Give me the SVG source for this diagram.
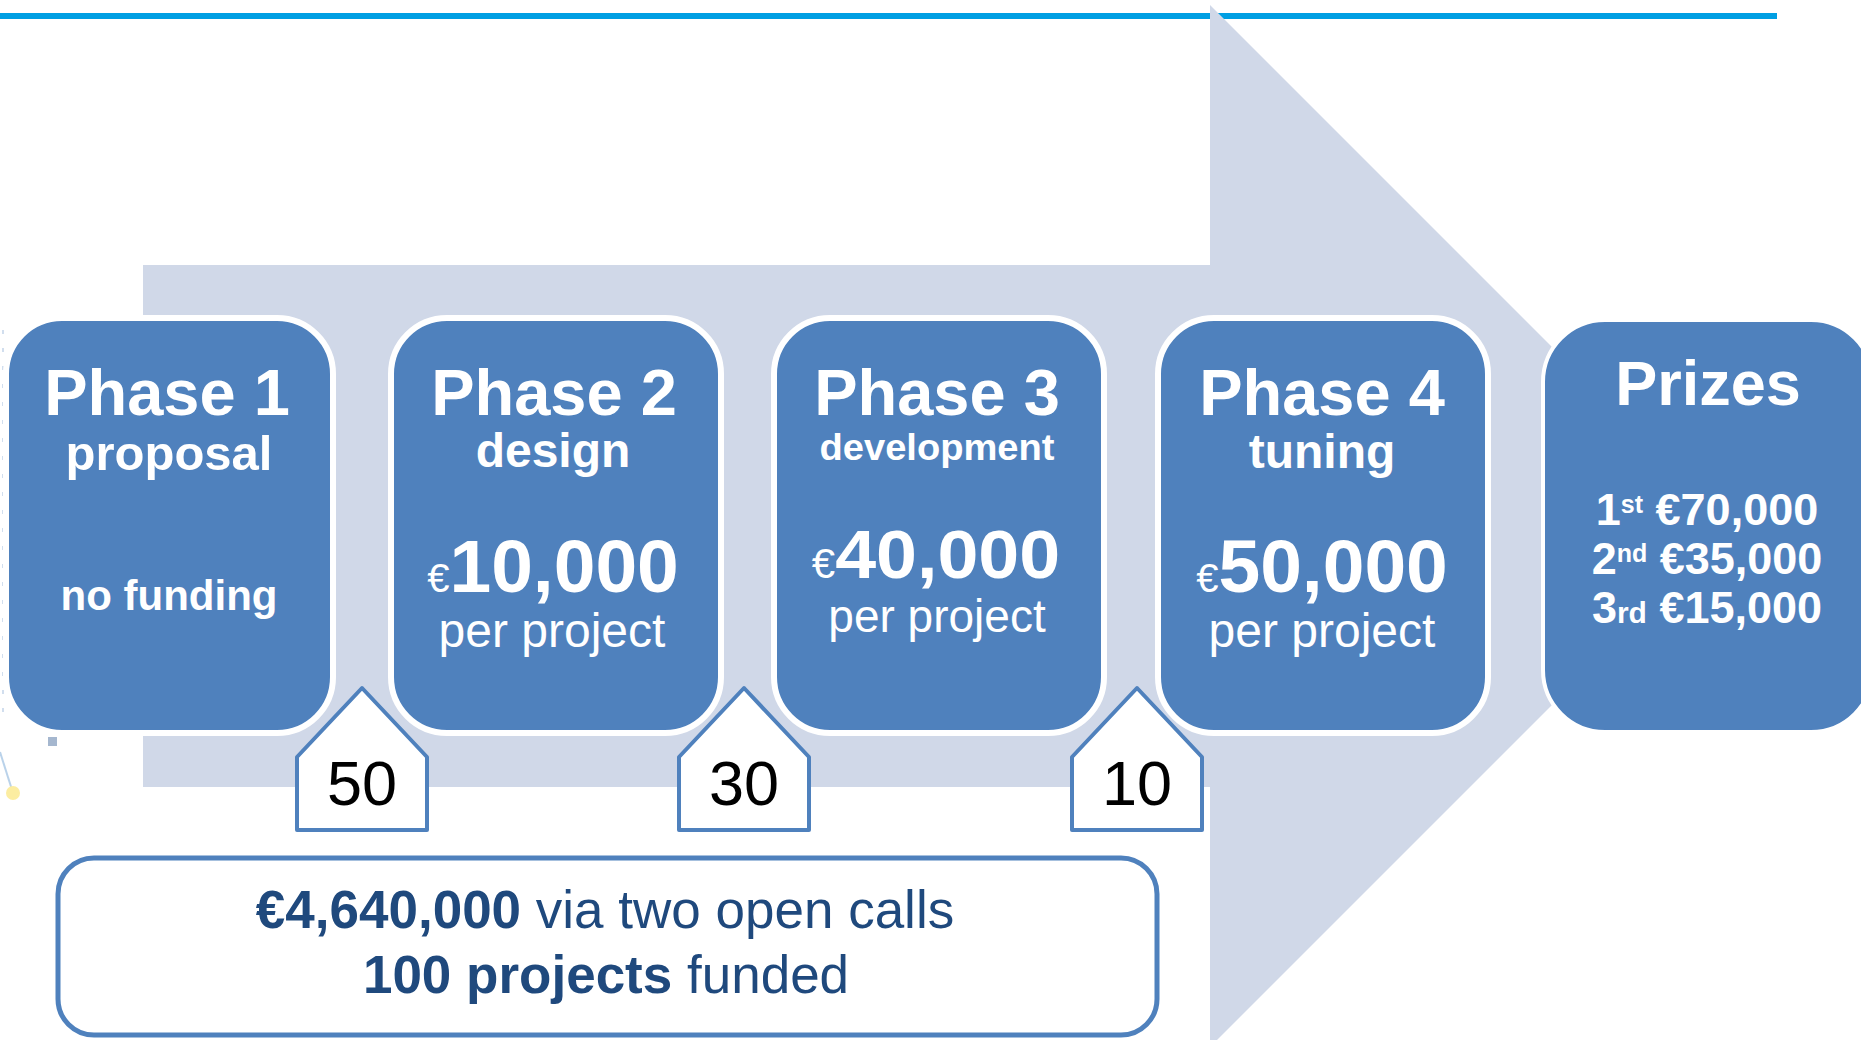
<svg xmlns="http://www.w3.org/2000/svg" width="1861" height="1040" viewBox="0 0 1861 1040">
<style>
text{font-family:"Liberation Sans",Arial,sans-serif}
.box{fill:#4F81BD;stroke:#FFFFFF;stroke-width:6}
.w{fill:#FFFFFF;text-anchor:middle}
.b{font-weight:bold}
.badge{fill:#FFFFFF;stroke:#4F81BD;stroke-width:4;stroke-linejoin:round}
.num{fill:#000000;font-size:63px;text-anchor:middle}
.dk{fill:#1F497D}
</style>
<rect x="0" y="13" width="1777" height="6" fill="#009FE3"/>
<g id="decor" opacity="0.8">
<line x1="3" y1="330" x2="3" y2="720" stroke="#C6D6EA" stroke-width="2" stroke-dasharray="4 14"/>
<line x1="0" y1="752" x2="13" y2="793" stroke="#A9C8E6" stroke-width="2"/>
<rect x="48" y="737" width="9" height="9" fill="#8FA6C4"/>
<circle cx="13" cy="793" r="7" fill="#FCE98A"/>
</g>
<g id="connectors">
<polygon id="big-arrow" points="143,265 1210,265 1210,5 1731,526 1210,1047 1210,787 143,787" fill="#D0D8E8"/>
</g>
<g id="phase1">
<rect class="box" x="6" y="318" width="327" height="415" rx="56"/>
<text class="w b" x="167" y="415" font-size="65">Phase 1</text>
<text class="w b" x="169" y="470" font-size="49">proposal</text>
<text class="w b" x="169" y="610" font-size="42">no funding</text>
</g>
<g id="phase2">
<rect class="box" x="391" y="318" width="330" height="415" rx="56"/>
<text class="w b" x="554" y="415" font-size="65">Phase 2</text>
<text class="w b" x="553" y="467" font-size="48">design</text>
<text class="w" x="553" y="592"><tspan font-size="40">€</tspan><tspan class="b" font-size="75">10,000</tspan></text>
<text class="w" x="552" y="647" font-size="48">per project</text>
</g>
<g id="phase3">
<rect class="box" x="774" y="318" width="330" height="415" rx="56"/>
<text class="w b" x="937" y="415" font-size="65">Phase 3</text>
<text class="w b" x="937" y="460" font-size="36" textLength="235" lengthAdjust="spacingAndGlyphs">development</text>
<text class="w" x="936" y="578"><tspan font-size="42">€</tspan><tspan class="b" font-size="68" textLength="225" lengthAdjust="spacingAndGlyphs">40,000</tspan></text>
<text class="w" x="937" y="632" font-size="46">per project</text>
</g>
<g id="phase4">
<rect class="box" x="1158" y="318" width="330" height="415" rx="56"/>
<text class="w b" x="1322" y="415" font-size="65">Phase 4</text>
<text class="w b" x="1322" y="468" font-size="48">tuning</text>
<text class="w" x="1322" y="592"><tspan font-size="40">€</tspan><tspan class="b" font-size="75">50,000</tspan></text>
<text class="w" x="1322" y="647" font-size="48">per project</text>
</g>
<g id="prizes">
<rect x="1543" y="320" width="330" height="412" rx="62" fill="#4F81BD" stroke="#FFFFFF" stroke-width="4"/>
<text class="w b" x="1708" y="405" font-size="63">Prizes</text>
<text class="w b" x="1707" y="525" font-size="45">1<tspan font-size="25" dy="-12">st</tspan><tspan dy="12"> €70,000</tspan></text>
<text class="w b" x="1707" y="574" font-size="45">2<tspan font-size="25" dy="-12">nd</tspan><tspan dy="12"> €35,000</tspan></text>
<text class="w b" x="1707" y="623" font-size="45">3<tspan font-size="30">rd</tspan> €15,000</text>
</g>
<g id="badge50">
<polygon class="badge" points="362,688 427,757 427,830 297,830 297,757"/>
<text class="num" x="362" y="805">50</text>
</g>
<g id="badge30">
<polygon class="badge" points="744,688 809,757 809,830 679,830 679,757"/>
<text class="num" x="744" y="805">30</text>
</g>
<g id="badge10">
<polygon class="badge" points="1137,688 1202,757 1202,830 1072,830 1072,757"/>
<text class="num" x="1137" y="805">10</text>
</g>
<g id="summary">
<rect x="58" y="858" width="1099" height="177" rx="36" fill="#FFFFFF" stroke="#4F81BD" stroke-width="5"/>
<text class="dk" x="605" y="928" font-size="53" text-anchor="middle"><tspan font-weight="bold">€4,640,000</tspan> via two open calls</text>
<text class="dk" x="606" y="993" font-size="53" text-anchor="middle"><tspan font-weight="bold">100 projects</tspan> funded</text>
</g>
</svg>
